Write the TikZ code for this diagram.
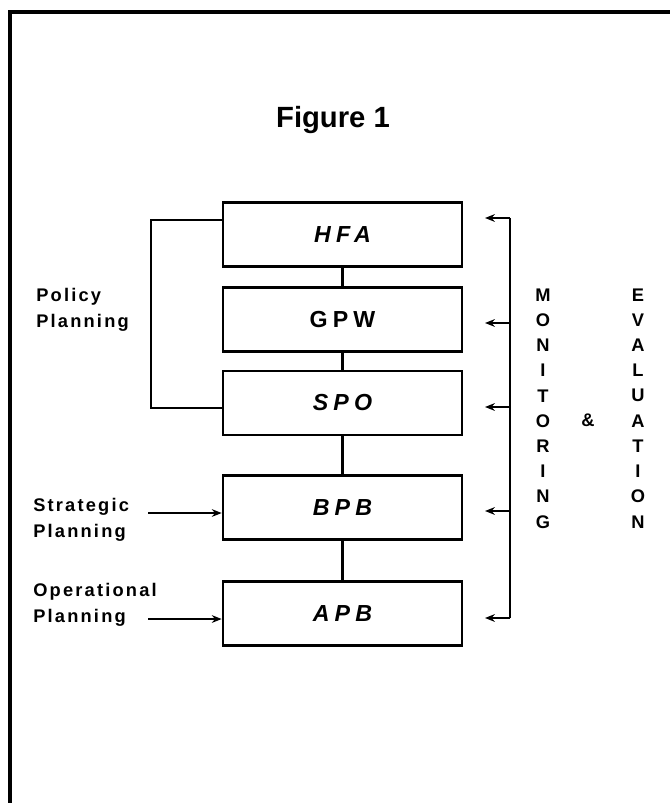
\documentclass[tikz,border=0pt]{standalone}
\usepackage{fontspec}
\setmainfont{Liberation Sans}
\newfontfamily\labfont{Liberation Sans Bold}[LetterSpace=12]
\newfontfamily\boxfont{Liberation Sans Bold}[LetterSpace=22]
\newfontfamily\boxitfont{Liberation Sans Bold Italic}[LetterSpace=22]
\newfontfamily\letfont{Liberation Sans Bold}
\usetikzlibrary{calc,arrows.meta}
\tikzset{
	box/.style={draw,line width=1.9pt,minimum width=5.975cm,minimum height=1.6cm,inner sep=0pt,
		font=\boxfont\fontsize{16.5}{18}\selectfont},
	itbox/.style={box,font=\boxitfont\fontsize{16.5}{18}\selectfont},
	lab/.style={anchor=west,align=left,inner sep=0pt,font=\labfont\fontsize{13}{18.5}\selectfont},
	vlet/.style={inner sep=0pt,font=\letfont\fontsize{13}{15}\selectfont},
	link/.style={line width=1.9pt}
}

\begin{document}
\begin{tikzpicture}
	\useasboundingbox (0,0) rectangle (16.75,-20.075);
	%FRAME
	\draw[line width=2.4pt] (0.25,-20.075) -- (0.25,-0.3) -- (16.75,-0.3);
	\node[font=\letfont\fontsize{20.8}{24}\selectfont] (title) at (8.325,-3.0) {Figure 1};

	%BOXES
	\node[itbox] (hfa) at (8.5625,-5.8625) {HFA};
	\node[box]   (gpw) at (8.5625,-7.99)   {GPW};
	\node[itbox] (spo) at (8.5625,-10.075) {SPO};
	\node[itbox] (bpb) at (8.5625,-12.69)  {BPB};
	\node[itbox] (apb) at (8.5625,-15.34)  {APB};
	\draw[link] (hfa) -- (gpw);
	\draw[link] (gpw) -- (spo);
	\draw[link] (spo) -- (bpb);
	\draw[link] (bpb) -- (apb);

	%LABELS
	\node[lab] (policy) at (0.9,-7.75)	 {Policy\\Planning};
	\node[lab] (strat)  at (0.825,-12.99) {Strategic\\Planning};
	\node[lab] (oper)   at (0.825,-15.11) {Operational\\Planning};

	%ARROWS
	%left side
	\coordinate (pt) at (3.775,-5.5);
	\coordinate (pb) at (3.775,-10.2);
	\draw[link] (pt -| hfa.west) -- (pt) -- (pb) -- (pb -| spo.west);
	\coordinate (sa) at (3.7,-12.825);
	\coordinate (oa) at (3.7,-15.475);
	\draw[link,->,>={Stealth[length=7pt,width=5.5pt]}] (sa) -- (sa -| bpb.west);
	\draw[link,->,>={Stealth[length=7pt,width=5.5pt]}] (oa) -- (oa -| apb.west);
	%right side
	\draw[link] (12.75,-5.45) coordinate (rtop) -- (12.75,-15.45) coordinate (rbot);
	\foreach \y [count=\i] in {-5.45,-8.075,-10.175,-12.775,-15.45}{
	\coordinate (r\i) at (12.75,\y);
	\coordinate (t\i) at (12.125,\y);
	\draw[link,->,>={Stealth[length=7pt,width=5.5pt]}] (r\i) -- (t\i);
	}

	%MONITORING & EVALUATION
	\foreach \l [count=\i] in {M,O,N,I,T,O,R,I,N,G}
	\node[vlet] (mon\i) at (13.575,{-7.375-0.63*(\i-1)}) {\l};
	\foreach \l [count=\i] in {E,V,A,L,U,A,T,I,O,N}
	\node[vlet] (eva\i) at (15.95,{-7.375-0.63*(\i-1)}) {\l};
	\node[vlet] (amp) at (14.7,-10.5) {\&};
\end{tikzpicture}
\end{document}
